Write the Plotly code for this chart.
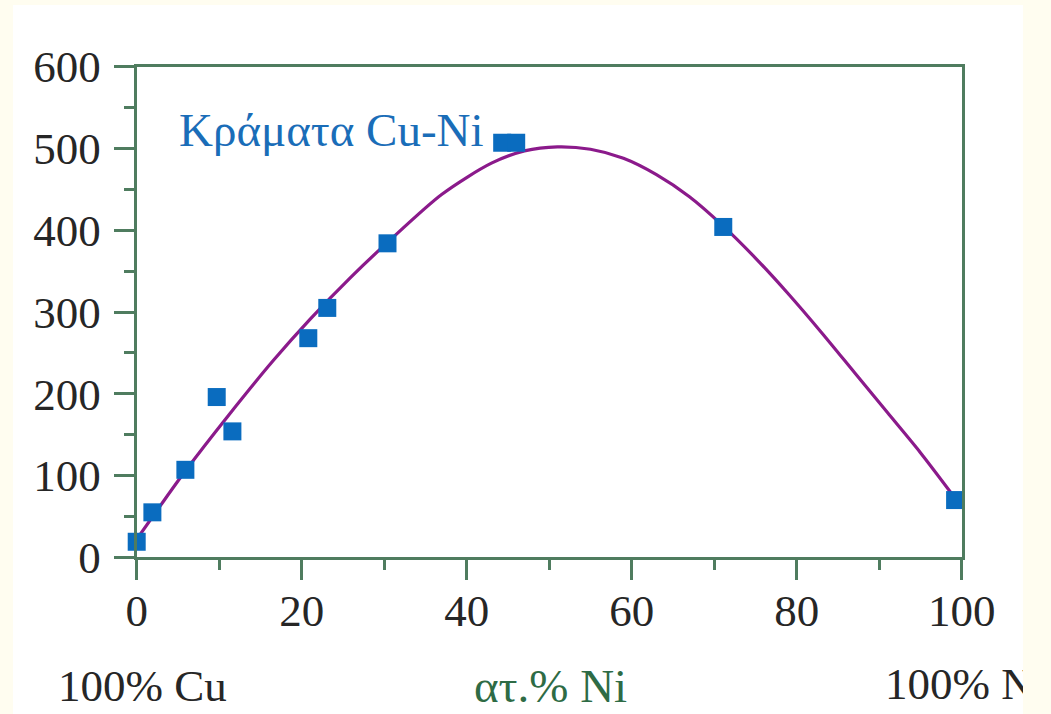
import plotly.graph_objects as go

# ---- data ----
ni_pct = [0, 1.9, 5.9, 9.7, 11.6, 20.8, 23.1, 30.4, 44.3, 46.0, 71.1, 99.2]
hardness = [19, 55, 107, 196, 154, 268, 305, 384, 507, 507, 404, 70]

fit_x = [0, 3, 6, 11, 16.5, 21, 26, 30.5, 37, 43, 47, 51, 55, 59, 63, 67, 71, 75, 79, 83, 87, 91, 95, 99]
fit_y = [22, 65, 107, 172, 240, 291, 343, 386, 444, 482, 497, 502, 499, 488, 468, 441, 406, 366, 322, 275, 226, 177, 128, 75]

x_ticks = [0, 20, 40, 60, 80, 100]
y_ticks = [0, 100, 200, 300, 400, 500, 600]

series_label = "Κράματα Cu-Ni"
x_title = "ατ.% Ni"
left_label = "100% Cu"
right_label = "100% Ni"

# ---- styling ----
W, H = 1051, 714
AX = "#4f7c5f"
TXT = "#262626"
BLUE = "#0a6cbf"
PURPLE = "#8b1a8b"
CREAM = "#fffdf0"
FONT = "Liberation Serif"

def px(x):
    return x / W

def py(y):
    return 1 - y / H

fig = go.Figure()

fig.add_trace(go.Scatter(
    x=fit_x, y=fit_y, mode="lines", line=dict(color=PURPLE, width=3.2, shape="spline", smoothing=0.8),
    hoverinfo="skip", showlegend=False, cliponaxis=False,
))
fig.add_trace(go.Scatter(
    x=ni_pct, y=hardness, mode="markers",
    marker=dict(symbol="square", size=18, color=BLUE, line=dict(width=0)),
    showlegend=False, cliponaxis=False,
))

# clipped right-hand label (the reference cuts it at the image edge)
fig.add_trace(go.Scatter(
    x=[885], y=[688], mode="text", text=[right_label], textposition="middle right",
    textfont=dict(family=FONT, size=45, color=TXT),
    xaxis="x2", yaxis="y2", showlegend=False, hoverinfo="skip", cliponaxis=True,
))

axis_common = dict(
    showline=True, linecolor=AX, linewidth=3, mirror=True,
    ticks="outside", ticklen=20, tickwidth=3, tickcolor=AX,
    showgrid=False, zeroline=False, automargin=False,
    tickfont=dict(family=FONT, size=45, color=TXT),
)

fig.update_layout(
    template="none",
    width=W, height=H, autosize=False,
    margin=dict(l=0, r=0, t=0, b=0, pad=0, autoexpand=False),
    paper_bgcolor=CREAM,
    plot_bgcolor="rgba(0,0,0,0)",
    xaxis=dict(domain=[px(136.7), px(961.7)], range=[0, 100], tickvals=x_ticks,
               minor=dict(dtick=10, ticks="outside", ticklen=10, tickwidth=3, tickcolor=AX),
               anchor="y", ticklabelstandoff=-8, **axis_common),
    yaxis=dict(domain=[py(557.3), py(66.7)], range=[0, 600], tickvals=y_ticks,
               minor=dict(dtick=50, ticks="outside", ticklen=10, tickwidth=3, tickcolor=AX),
               anchor="x", ticklabelstandoff=4, **axis_common),
    xaxis2=dict(domain=[px(13), px(1023)], range=[13, 1023], visible=False, anchor="y2", automargin=False),
    yaxis2=dict(domain=[0, py(5)], range=[714, 5], visible=False, anchor="x2", automargin=False),
    shapes=[dict(type="rect", xref="paper", yref="paper", x0=px(13), x1=px(1023), y0=0, y1=py(5),
                 fillcolor="white", line=dict(width=0), layer="below")],
    annotations=[
        dict(text=series_label, xref="paper", yref="paper", x=px(177), y=py(130),
             xanchor="left", yanchor="middle", showarrow=False,
             font=dict(family=FONT, size=47, color="#1a6db8")),
        dict(text=x_title, xref="paper", yref="paper", x=px(550), y=py(686),
             xanchor="center", yanchor="middle", showarrow=False,
             font=dict(family=FONT, size=47, color="#2e6b45")),
        dict(text=left_label, xref="paper", yref="paper", x=px(56), y=py(686),
             xanchor="left", yanchor="middle", showarrow=False,
             font=dict(family=FONT, size=45, color=TXT)),
    ],
)

fig.write_html(
    "out.html",
    config={"displayModeBar": False},
    post_script="document.body.style.margin='0px';document.body.style.background='%s';" % CREAM,
)
